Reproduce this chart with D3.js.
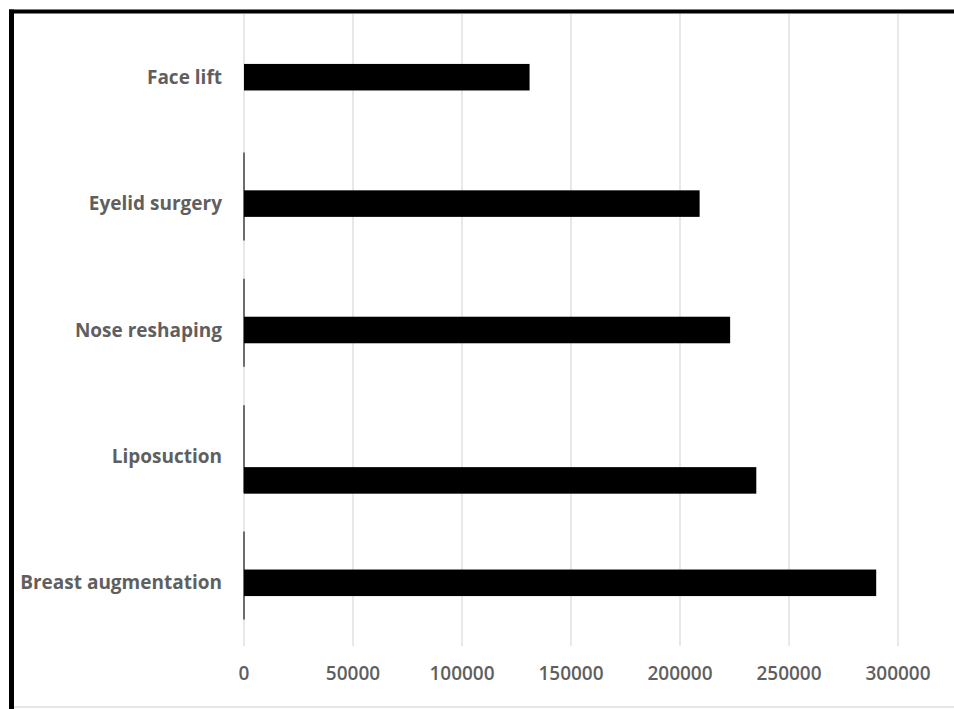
<!DOCTYPE html>
<html>
<head>
<meta charset="utf-8">
<script src="https://cdn.jsdelivr.net/npm/d3@7"></script>
<style>
  html, body { margin: 0; padding: 0; background: #fff; }
  svg { display: block; }
</style>
</head>
<body>
<div id="chart"></div>
<script>
// data
const procedures = ["Face lift", "Eyelid surgery", "Nose reshaping", "Liposuction", "Breast augmentation"];
const counts = [131000, 209000, 223000, 235000, 290000];
const xTicks = [0, 50000, 100000, 150000, 200000, 250000, 300000];

const width = 954, height = 709;
const margin = { top: 14, right: 56, bottom: 63, left: 244 };
const innerW = 898 - margin.left;
const innerH = height - margin.top - margin.bottom;

const svg = d3.select("#chart").append("svg")
  .attr("width", width)
  .attr("height", height);

const g = svg.append("g")
  .attr("transform", `translate(${margin.left},${margin.top})`);

const x = d3.scaleLinear().domain([0, 300000]).range([0, innerW]);
const y = d3.scaleBand().domain(procedures).range([0, innerH])
  .paddingInner(0.79).paddingOuter(0.395);

const font = "'Open Sans', Lato, sans-serif";
const textCol = "#5f5f5f";

// vertical gridlines
g.selectAll(".grid").data(xTicks).join("line")
  .attr("class", "grid")
  .attr("x1", d => x(d)).attr("x2", d => x(d))
  .attr("y1", 0).attr("y2", innerH)
  .attr("stroke", "#dcdcdc")
  .attr("stroke-width", 1.3);

// dark bits of the category axis line (as in the source image)
const step = y.step();
g.selectAll(".axseg").data(procedures.slice(1)).join("line")
  .attr("class", "axseg")
  .attr("x1", 0).attr("x2", 0)
  .attr("y1", d => y(d) - y.paddingOuter() * step + 12)
  .attr("y2", d => y(d) - y.paddingOuter() * step + 100)
  .attr("stroke", "#444")
  .attr("stroke-width", 1.5);

// bars (liposuction bar sits a little low in the original)
const shift = { "Liposuction": 24 };
g.selectAll(".bar").data(procedures).join("rect")
  .attr("class", "bar")
  .attr("x", x(0))
  .attr("y", d => y(d) + (shift[d] || 0))
  .attr("width", (d, i) => x(counts[i]) - x(0))
  .attr("height", y.bandwidth())
  .attr("fill", "#000");

// category labels
g.selectAll(".cat").data(procedures).join("text")
  .attr("class", "cat")
  .attr("x", -22)
  .attr("y", d => y(d) + y.bandwidth() / 2)
  .attr("dy", "0.35em")
  .attr("text-anchor", "end")
  .style("font-family", font)
  .style("font-weight", 700)
  .style("font-size", "19px")
  .attr("fill", textCol)
  .text(d => d);

// x tick labels
g.selectAll(".tick").data(xTicks).join("text")
  .attr("class", "tick")
  .attr("x", d => x(d))
  .attr("y", innerH + 27)
  .attr("dy", "0.35em")
  .attr("text-anchor", "middle")
  .style("font-family", font)
  .style("font-weight", 600)
  .style("font-size", "19px")
  .attr("fill", textCol)
  .text(d => d);

// frame: thick black top and left, thin grey bottom
svg.append("line").attr("x1", 9).attr("x2", width).attr("y1", 11.5).attr("y2", 11.5)
  .attr("stroke", "#000").attr("stroke-width", 4);
svg.append("line").attr("x1", 11.5).attr("x2", 11.5).attr("y1", 9.5).attr("y2", height)
  .attr("stroke", "#000").attr("stroke-width", 5);
svg.append("line").attr("x1", 14).attr("x2", width).attr("y1", 707).attr("y2", 707)
  .attr("stroke", "#ccc").attr("stroke-width", 1);
</script>
</body>
</html>
